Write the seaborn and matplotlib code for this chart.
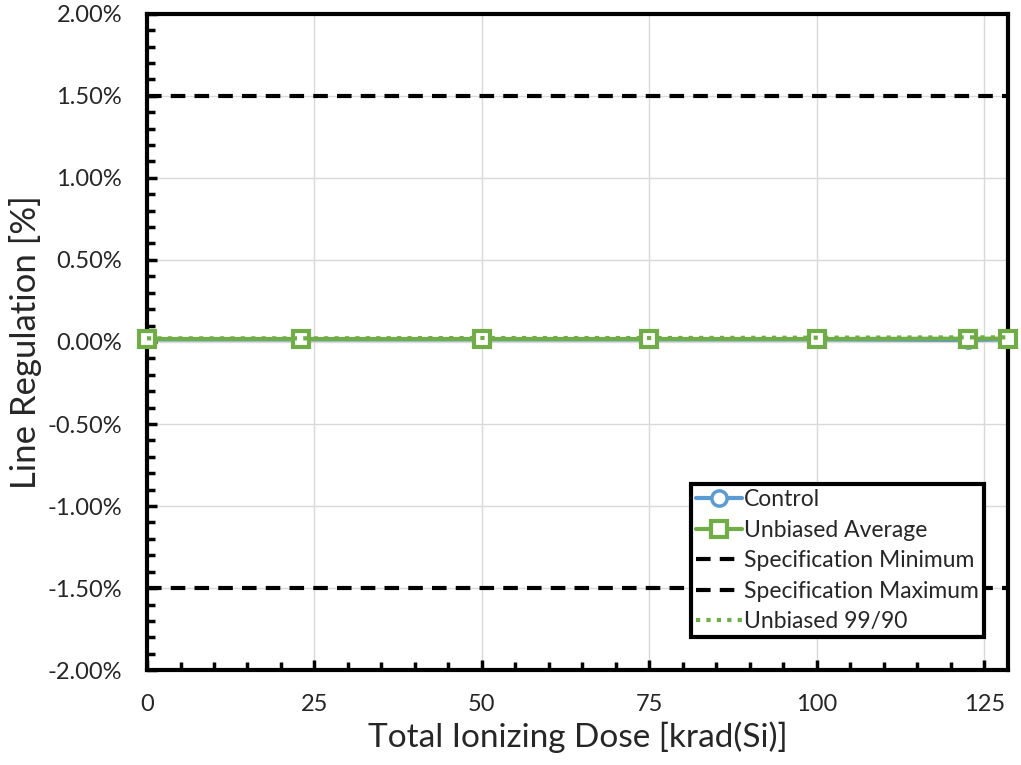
"""
Line regulation vs total ionizing dose.
"""
import numpy as np
import pandas as pd
import matplotlib
matplotlib.use("Agg")
import matplotlib.pyplot as plt
from matplotlib.ticker import MultipleLocator, FuncFormatter
import seaborn as sns

# Datos
dosis = [0, 23, 50, 75, 100, 122.5, 128.5]
control = [0.015, 0.015, 0.015, 0.015, 0.015, 0.012, 0.015]
unbiased_avg = [0.018, 0.018, 0.018, 0.018, 0.018, 0.020, 0.020]
unbiased_9990 = [0.022, 0.022, 0.024, 0.024, 0.026, 0.028, 0.028]
spec_min = 1.5
spec_max = -1.5

sns.set_theme(style="white")
plt.rcParams['font.family'] = ['Lato', 'DejaVu Sans']

fig, ax = plt.subplots(figsize=(10.21, 7.65), dpi=100)

df = pd.DataFrame({'dosis': dosis, 'control': control,
                   'avg': unbiased_avg, 'p9990': unbiased_9990})

sns.lineplot(data=df, x='dosis', y='control', ax=ax, color='#5b9bd5', lw=3,
             marker='o', markersize=11, markerfacecolor='white',
             markeredgecolor='#5b9bd5', markeredgewidth=2.5,
             label='Control', clip_on=False, zorder=3)
sns.lineplot(data=df, x='dosis', y='avg', ax=ax, color='#70ad47', lw=3,
             marker='s', markersize=12, markerfacecolor='white',
             markeredgecolor='#70ad47', markeredgewidth=3,
             label='Unbiased Average', clip_on=False, zorder=4)
ax.axhline(spec_min, color='black', ls=(0, (3.5, 2.2)), lw=3,
           label='Specification Minimum', zorder=2)
ax.axhline(spec_max, color='black', ls=(0, (3.5, 2.2)), lw=3,
           label='Specification Maximum', zorder=2)
sns.lineplot(data=df, x='dosis', y='p9990', ax=ax, color='#70ad47', lw=3,
             ls=(0, (1, 1.5)), label='Unbiased 99/90', clip_on=False, zorder=5)

ax.set_xlim(0, 128.5)
ax.set_ylim(-2.0, 2.0)
ax.xaxis.set_major_locator(MultipleLocator(25))
ax.xaxis.set_minor_locator(MultipleLocator(5))
ax.yaxis.set_major_locator(MultipleLocator(0.5))
ax.yaxis.set_minor_locator(MultipleLocator(0.1))
ax.yaxis.set_major_formatter(FuncFormatter(lambda v, p: f"{v:.2f}%"))

ax.grid(which='major', color='#d9d9d9', lw=1)
ax.tick_params(which='both', direction='in', color='black',
               left=True, bottom=True, labelsize=17)
ax.tick_params(axis='y', which='major', pad=18)
ax.tick_params(axis='x', which='major', pad=17)
ax.tick_params(which='major', length=7, width=2.5)
ax.tick_params(which='minor', length=5.5, width=2.5)
for s in ax.spines.values():
    s.set_color('black')
    s.set_linewidth(3)

ax.set_xlabel('Total Ionizing Dose [krad(Si)]', fontsize=24, labelpad=5)
ax.set_ylabel('Line Regulation [%]', fontsize=25, labelpad=4)

leg = ax.legend(loc='lower right', bbox_to_anchor=(0.98, 0.04), fontsize=16.5,
                frameon=True, fancybox=False, edgecolor='black', framealpha=1,
                handlelength=2.0, handletextpad=0.1, borderpad=0.2,
                labelspacing=0.42, borderaxespad=0.3)
leg.get_frame().set_linewidth(3)

plt.subplots_adjust(left=0.144, right=0.987, top=0.982, bottom=0.124)
plt.savefig('out.png', dpi=100)
plt.close()
